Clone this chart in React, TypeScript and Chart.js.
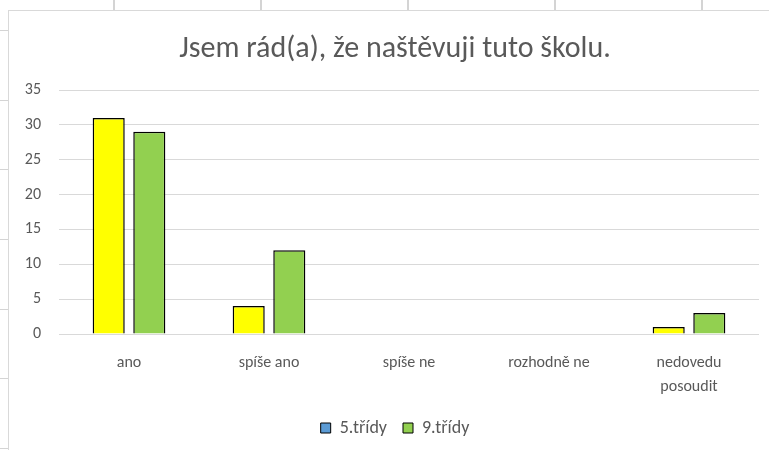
import React, { useEffect, useRef } from "react";
import { Chart, registerables } from "chart.js";

Chart.register(...registerables);

const categories: (string | string[])[] = ["ano", "spíše ano", "spíše ne", "rozhodně ne", ["nedovedu", "posoudit"]];
const series5: number[] = [31, 4, 0, 0, 1];
const series9: number[] = [29, 12, 0, 0, 3];
const seriesNames: string[] = ["5.třídy", "9.třídy"];
const yTicks: number[] = [0, 5, 10, 15, 20, 25, 30, 35];
const titleText = "Jsem rád(a), že naštěvuji tuto školu.";

const FONT = "Carlito, Calibri, Lato, 'Open Sans', sans-serif";
const TEXT = "#595959";
const SHEET = "#d4d4d4";

const sheetVLines = [113, 260, 407, 554, 701];
const sheetHLines = [30, 100, 169, 239, 309, 378, 448];

export default function App() {
  const ref = useRef<HTMLCanvasElement | null>(null);

  useEffect(() => {
    if (!ref.current) return;
    const chart = new Chart(ref.current, {
      type: "bar",
      data: {
        labels: categories as any,
        datasets: [
          {
            label: seriesNames[0],
            data: series5,
            backgroundColor: "#ffff00",
            borderColor: "#000000",
            borderWidth: 1.5,
          },
          {
            label: seriesNames[1],
            data: series9,
            backgroundColor: "#92d050",
            borderColor: "#000000",
            borderWidth: 1.5,
          },
        ],
      },
      options: {
        responsive: false,
        animation: false,
        layout: { padding: { left: 12, right: 10, top: 0, bottom: 4 } },
        datasets: {
          bar: { categoryPercentage: 0.58, barPercentage: 0.79 },
        },
        plugins: {
          title: {
            display: true,
            text: titleText,
            color: TEXT,
            font: { family: FONT, size: 30, weight: "normal" },
            padding: { top: 20, bottom: 23 },
          },
          legend: {
            position: "bottom",
            labels: {
              color: TEXT,
              font: { family: FONT, size: 18 },
              boxWidth: 10,
              boxHeight: 10,
              padding: 16,
              generateLabels: (c: any) => {
                const items = Chart.defaults.plugins.legend.labels.generateLabels(c);
                return items.map((it: any, i: number) => ({
                  ...it,
                  fillStyle: i === 0 ? "#5b9bd5" : "#92d050",
                  strokeStyle: "#000000",
                  lineWidth: 1,
                }));
              },
            },
          },
          tooltip: { enabled: false },
        },
        scales: {
          x: {
            grid: { display: false, drawTicks: false },
            border: { display: false },
            ticks: {
              color: TEXT,
              font: { family: FONT, size: 16, lineHeight: "24px" },
              padding: 17,
              maxRotation: 0,
              autoSkip: false,
            },
            afterFit: (s: any) => {
              s.height = 69;
            },
          },
          y: {
            min: 0,
            max: 35,
            afterBuildTicks: (s: any) => {
              s.ticks = yTicks.map((v) => ({ value: v }));
            },
            grid: { color: "#d9d9d9", lineWidth: 1, drawTicks: false },
            border: { display: false },
            ticks: {
              color: TEXT,
              font: { family: FONT, size: 16 },
              padding: 18,
            },
            afterFit: (s: any) => {
              s.width = 38;
            },
          },
          spacer: {
            type: "linear",
            position: "right",
            display: true,
            grid: { display: false, drawTicks: false },
            border: { display: false },
            ticks: { display: false },
            afterFit: (s: any) => {
              s.width = 10;
            },
          },
        },
      },
    });
    return () => chart.destroy();
  }, []);

  return (
    <div
      style={{
        position: "fixed",
        left: 0,
        top: 0,
        width: 769,
        height: 450,
        overflow: "hidden",
        background: "#ffffff",
      }}
    >
      {sheetVLines.map((x) => (
        <div
          key={"v" + x}
          style={{ position: "absolute", left: x, top: 0, width: 2, height: 12, background: SHEET }}
        />
      ))}
      {sheetHLines.map((y) => (
        <div
          key={"h" + y}
          style={{ position: "absolute", left: 0, top: y, width: 10, height: 1, background: SHEET }}
        />
      ))}
      <div
        style={{
          position: "absolute",
          left: 8,
          top: 10,
          width: 790,
          height: 460,
          borderLeft: "1px solid #d9d9d9",
          borderTop: "1px solid #d9d9d9",
          background: "#ffffff",
        }}
      >
        <canvas ref={ref} width={770} height={440} style={{ display: "block", width: 770, height: 440 }} />
      </div>
    </div>
  );
}
